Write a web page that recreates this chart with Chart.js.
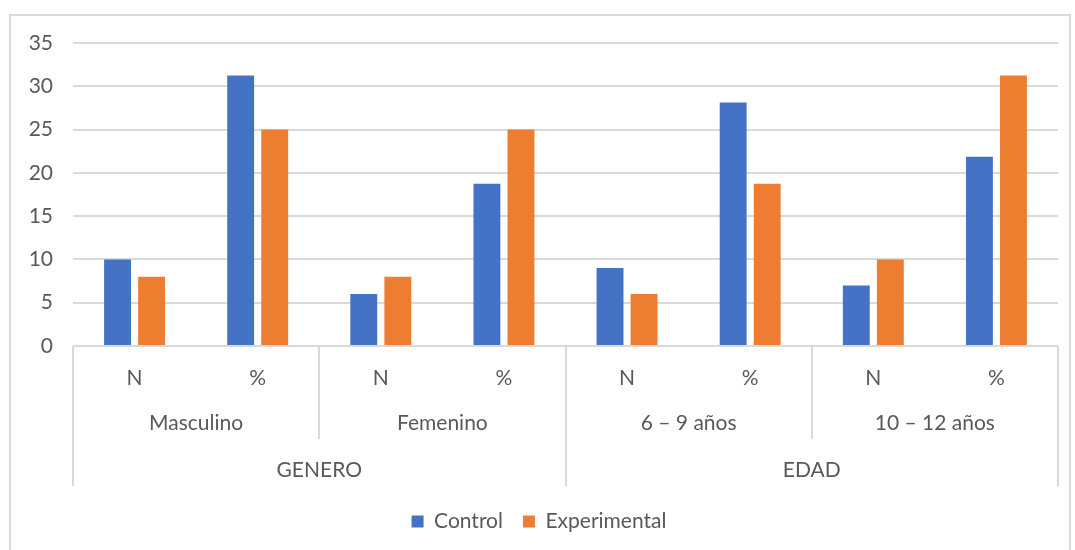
<!DOCTYPE html>
<html>
<head>
<meta charset="utf-8">
<script src="https://cdn.jsdelivr.net/npm/chart.js@4/dist/chart.umd.min.js"></script>
<style>
  html, body { margin: 0; padding: 0; background: #fff; }
  #wrap { position: relative; width: 1075px; height: 550px; }
  #marco { position: absolute; left: 9px; top: 14px; width: 1062px; height: 545px; border: 2px solid #d9d9d9; box-sizing: border-box; }
  canvas { position: absolute; left: 0; top: 0; }
</style>
</head>
<body>
<div id="wrap">
  <div id="marco"></div>
  <canvas id="grafico" width="1075" height="550"></canvas>
</div>
<script>
// Datos
const subCategorias = ['N', '%', 'N', '%', 'N', '%', 'N', '%'];
const grupos = ['Masculino', 'Femenino', '6 – 9 años', '10 – 12 años'];
const gruposMayores = ['GENERO', 'EDAD'];
const control = [10, 31.25, 6, 18.75, 9, 28.125, 7, 21.875];
const experimental = [8, 25, 8, 25, 6, 18.75, 10, 31.25];
const yTicks = [0, 5, 10, 15, 20, 25, 30, 35];

const colorTexto = '#595959';
const colorLinea = '#d9d9d9';
const fuente = 'Lato, "Open Sans", sans-serif';
const tamFuente = 21;

// Ejes multinivel estilo Excel
const ejeMultinivel = {
    id: 'ejeMultinivel',
    afterDraw(chart) {
        const ctx = chart.ctx;
        const x = chart.scales.x;
        const b = chart.chartArea.bottom;
        const left = chart.chartArea.left;
        const right = chart.chartArea.right;
        const ancho = (right - left) / subCategorias.length;

        ctx.save();
        ctx.fillStyle = colorTexto;
        ctx.font = tamFuente + 'px ' + fuente;
        ctx.textAlign = 'center';
        ctx.textBaseline = 'middle';

        subCategorias.forEach((s, i) => {
            ctx.fillText(s, x.getPixelForValue(i), b + 32);
        });

        const porGrupo = subCategorias.length / grupos.length;
        grupos.forEach((g, i) => {
            const x0 = left + i * porGrupo * ancho;
            ctx.fillText(g, x0 + porGrupo * ancho / 2, b + 77);
        });

        const porMayor = subCategorias.length / gruposMayores.length;
        gruposMayores.forEach((g, i) => {
            const x0 = left + i * porMayor * ancho;
            ctx.fillText(g, x0 + porMayor * ancho / 2, b + 124);
        });

        // separadores
        ctx.strokeStyle = colorLinea;
        ctx.lineWidth = 2;
        for (let i = 0; i <= grupos.length; i++) {
            const px = Math.round(left + i * porGrupo * ancho);
            const esMayor = (i * porGrupo) % porMayor === 0;
            ctx.beginPath();
            ctx.moveTo(px, b);
            ctx.lineTo(px, b + (esMayor ? 140 : 93));
            ctx.stroke();
        }
        ctx.restore();
    }
};

new Chart(document.getElementById('grafico').getContext('2d'), {
    type: 'bar',
    data: {
        labels: subCategorias,
        datasets: [
            { label: 'Control', data: control, backgroundColor: '#4472C4', barPercentage: 0.79, categoryPercentage: 0.553 },
            { label: 'Experimental', data: experimental, backgroundColor: '#ED7D31', barPercentage: 0.79, categoryPercentage: 0.553 }
        ]
    },
    options: {
        responsive: false,
        animation: false,
        layout: { padding: { left: 20, right: 17, top: 43, bottom: 8 } },
        scales: {
            x: {
                grid: { display: false },
                border: { display: false },
                ticks: { display: false },
                afterFit: s => { s.height = 145; }
            },
            y: {
                min: 0,
                max: 35,
                afterBuildTicks: s => { s.ticks = yTicks.map(v => ({ value: v })); },
                afterFit: s => { s.width = 53; },
                grid: { color: colorLinea, lineWidth: 2, drawTicks: false },
                border: { display: false },
                ticks: { color: colorTexto, font: { size: tamFuente, family: fuente }, padding: 20 }
            }
        },
        plugins: {
            legend: {
                position: 'bottom',
                labels: { color: colorTexto, font: { size: tamFuente, family: fuente }, boxWidth: 12, boxHeight: 12, padding: 20 }
            },
            tooltip: { enabled: false }
        }
    },
    plugins: [ejeMultinivel]
});
</script>
</body>
</html>
